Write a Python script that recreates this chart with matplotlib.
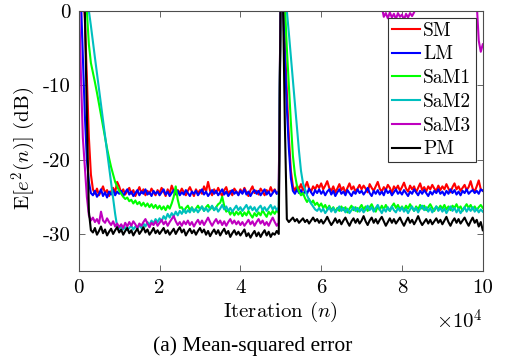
import numpy as np
import matplotlib
matplotlib.use("Agg")
import matplotlib.pyplot as plt

# MSE curves in dB, one sample every 500 iterations
step = 500

sm = [5, 5, 3, -1, -9, -17, -22, -24.0, -24.6, -23.9, -24.8, -24.2, -23.6, -24.5, -24.1, -24.9, -24.3, -23.8, -24.4, -23.0,
      -23.6, -24.5, -24.0, -24.7, -24.2, -23.8, -24.6, -24.1, -24.9, -24.3, -23.7, -24.5, -24.0, -24.8, -24.2, -24.6, -23.9, -24.4, -24.8, -24.1,
      -24.5, -23.8, -24.3, -24.9, -24.0, -24.6, -23.5, -24.2, -24.7, -24.1, -24.5, -23.9, -24.4, -24.8, -24.2, -23.7, -24.3, -24.9, -24.0, -24.5,
      -24.1, -24.6, -23.6, -24.3, -23.0, -24.2, -24.8, -24.0, -24.5, -23.8, -24.4, -24.9, -24.1, -23.7, -24.6, -24.2, -24.8, -23.9, -24.3, -24.7,
      -24.0, -24.5, -23.8, -24.4, -24.9, -24.1, -23.6, -24.5, -24.2, -24.7, -23.9, -24.3, -24.8, -24.1, -24.5, -23.7, -24.4, -24.0, -24.6, -24.2,
      5, 3, -4, -11, -17, -21.5, -23.6, -24.2, -23.5, -24.0, -23.3, -24.1, -23.7, -23.0, -23.9, -24.3, -23.6, -24.0, -23.4, -23.8,
      -23.2, -24.0, -23.5, -22.9, -23.8, -24.2, -23.6, -24.4, -23.9, -23.3, -24.1, -23.7, -24.5, -23.8, -23.2, -24.0, -23.6, -24.3, -23.9, -23.4,
      -24.0, -23.5, -23.9, -24.4, -23.3, -23.8, -24.2, -23.6, -23.0, -23.9, -24.3, -23.7, -24.1, -23.4, -23.8, -24.5, -23.6, -24.0, -23.5, -24.2,
      -23.7, -23.1, -23.9, -24.3, -23.5, -24.0, -23.6, -24.4, -23.8, -23.2, -24.1, -23.7, -24.3, -23.6, -24.0, -23.4, -23.9, -24.2, -23.5, -24.1,
      -23.6, -24.0, -23.3, -23.9, -24.4, -23.7, -23.2, -24.0, -23.6, -24.2, -23.8, -23.4, -24.1, -23.7, -22.9, -23.9, -24.3, -23.6, -22.8, -24.0,
      -24.2]

lm = [5, 2, -6, -14, -20, -23, -24.5, -24.8, -24.2, -25.0, -24.6, -24.0, -24.9, -24.4, -25.1, -24.3, -24.7, -24.1, -24.8, -24.3,
      -24.6, -24.2, -24.9, -24.4, -24.0, -24.7, -24.3, -24.9, -24.5, -24.1, -24.8, -24.3, -24.6, -24.0, -24.7, -24.4, -24.9, -24.2, -24.6, -24.3,
      -24.8, -24.4, -24.0, -24.7, -24.3, -24.9, -24.5, -24.1, -24.6, -24.2, -24.8, -24.4, -24.7, -24.1, -24.5, -24.9, -24.3, -24.6, -24.2, -24.8,
      -24.4, -24.0, -24.7, -24.3, -24.9, -24.5, -24.1, -24.6, -24.2, -24.8, -24.4, -24.0, -24.7, -24.3, -24.9, -24.5, -24.1, -24.6, -24.3, -24.8,
      -24.2, -24.6, -24.0, -24.7, -24.3, -24.9, -24.4, -24.1, -24.6, -24.2, -24.8, -24.4, -24.0, -24.7, -24.3, -24.9, -24.5, -24.1, -24.6, -24.3,
      5, 2, -6, -13, -18.5, -22.5, -24.2, -24.6, -24.0, -24.5, -24.1, -24.7, -24.2, -24.6, -23.9, -24.4, -24.8, -24.1, -24.5, -24.0,
      -24.6, -24.2, -24.8, -24.3, -24.0, -24.7, -24.2, -24.9, -24.4, -24.0, -24.6, -24.3, -24.8, -24.1, -24.5, -24.9, -24.3, -24.6, -24.0, -24.5,
      -24.2, -24.7, -24.3, -23.8, -24.5, -24.9, -24.2, -24.6, -24.1, -24.7, -24.3, -24.8, -24.0, -24.5, -24.2, -24.8, -24.4, -24.0, -24.6, -24.3,
      -24.7, -24.1, -24.5, -24.9, -24.3, -24.6, -24.0, -24.4, -24.8, -24.2, -24.6, -24.1, -24.5, -24.9, -24.3, -24.7, -24.2, -24.5, -24.0, -24.6,
      -24.3, -24.8, -24.2, -24.6, -24.0, -24.5, -24.1, -24.7, -24.3, -24.8, -24.2, -24.5, -24.0, -24.6, -24.3, -24.1, -24.5, -24.2, -24.6, -24.0,
      -24.2]

sam1 = [5, 5, 5, 4, 0, -4.5, -7, -8.3, -9.6, -11, -12.5, -14, -15.5, -17, -18.5, -19.8, -21, -22, -23, -23.6,
        -24.2, -24.6, -25.0, -25.3, -25.1, -25.6, -25.4, -25.9, -25.5, -26.0, -25.7, -26.2, -25.8, -26.3, -25.9, -26.4, -26.0, -26.5, -26.1, -26.6,
        -26.2, -26.7, -26.3, -26.8, -26.2, -26.6, -25.9, -25.0, -23.6, -25.4, -26.5, -26.4, -27.0, -26.5, -26.2, -26.8, -26.4, -27.0, -26.6, -26.2,
        -26.7, -26.3, -26.9, -26.4, -26.1, -26.7, -26.3, -26.8, -26.4, -26.0, -25.8, -25.0, -26.2, -27.0, -26.8, -27.4, -26.9, -27.5, -27.0, -27.4,
        -27.0, -27.6, -27.1, -27.5, -26.9, -27.4, -27.8, -27.2, -27.6, -27.1, -27.5, -26.8, -27.3, -27.7, -27.0, -27.4, -26.9, -27.3, -26.8, -27.2,
        5, 5, 1, -5, -10, -15, -19.5, -22, -23.5, -24.3, -24.8, -24.5, -25.2, -25.7, -25.3, -25.9, -25.5, -26.1, -25.8, -26.3,
        -25.9, -26.5, -26.1, -26.7, -26.2, -26.8, -26.4, -27.0, -26.5, -26.9, -26.3, -26.8, -26.4, -27.1, -26.6, -26.2, -26.8, -26.4, -27.0, -26.5,
        -26.1, -26.7, -26.3, -26.9, -26.4, -26.0, -26.6, -27.0, -26.3, -26.8, -26.2, -26.7, -26.1, -26.6, -26.9, -26.3, -25.9, -26.5, -26.1, -26.7,
        -26.3, -26.8, -26.2, -26.6, -26.0, -26.5, -26.9, -26.3, -26.7, -26.1, -26.6, -26.2, -26.8, -26.4, -26.0, -26.5, -26.9, -26.3, -26.7, -26.2,
        -26.6, -26.1, -26.7, -26.3, -26.8, -26.2, -26.5, -26.0, -26.6, -26.3, -26.9, -26.4, -26.0, -26.5, -26.1, -26.7, -26.3, -26.8, -26.4, -26.1,
        -26.5]

sam2 = [5, 5, 5, 5, 5, 0, -2, -4.2, -6.3, -8.4, -10.5, -12.6, -14.7, -16.8, -19, -21, -23, -25.2, -27.3, -29.0,
        -29.3, -29.0, -29.4, -29.1, -29.5, -29.2, -28.9, -29.4, -29.0, -29.3, -28.8, -29.2, -28.6, -29.0, -28.4, -28.8, -28.2, -28.6, -28.0, -28.4,
        -27.9, -28.3, -27.6, -28.0, -27.3, -27.8, -27.2, -27.6, -27.0, -27.5, -26.9, -27.3, -26.7, -27.2, -26.8, -27.1, -26.5, -27.0, -26.6, -27.1,
        -26.7, -26.3, -26.9, -26.5, -27.0, -26.6, -26.2, -26.8, -26.4, -27.0, -26.6, -26.1, -26.7, -26.3, -26.9, -26.5, -27.0, -26.6, -26.2, -26.8,
        -26.4, -26.9, -26.5, -26.1, -26.7, -26.3, -26.8, -26.4, -27.0, -26.5, -26.2, -26.8, -26.4, -26.9, -26.5, -26.1, -26.7, -26.3, -26.8, -26.4,
        5, 5, 3, 0, -3, -6.2, -9.4, -12.5, -15.6, -18.8, -21.5, -23.2, -24.0, -24.8, -25.4, -25.9, -26.3, -26.7, -26.9, -26.5,
        -27.0, -26.6, -27.2, -26.8, -26.4, -27.0, -26.5, -27.1, -26.7, -26.3, -26.9, -26.5, -27.1, -26.6, -27.2, -26.8, -26.4, -26.9, -26.5, -27.0,
        -26.6, -27.1, -26.7, -26.2, -26.8, -26.4, -27.0, -26.5, -26.1, -26.7, -27.2, -26.6, -27.0, -26.4, -26.9, -26.3, -26.8, -27.1, -26.5, -26.9,
        -26.4, -27.0, -26.6, -27.2, -26.7, -26.3, -26.9, -26.5, -27.1, -26.6, -26.2, -26.8, -26.4, -27.0, -26.5, -27.1, -26.7, -26.3, -26.9, -26.5,
        -27.0, -26.6, -27.2, -26.7, -26.3, -26.9, -26.5, -27.1, -26.6, -27.2, -26.8, -26.4, -27.0, -26.5, -26.9, -26.4, -27.0, -26.6, -27.1, -26.7,
        -27.0]

sam3 = [3, -8, -17, -21, -25, -27.5, -28.2, -27.8, -28.4, -28.0, -28.6, -27.0, -28.2, -28.5, -27.9, -28.4, -28.8, -28.3, -29.0, -28.6,
        -29.1, -28.7, -29.2, -28.5, -29.0, -28.4, -28.9, -28.3, -28.7, -29.2, -28.6, -28.9, -28.4, -28.0, -28.6, -29.1, -28.5, -28.8, -28.3, -28.9,
        -28.5, -28.1, -28.7, -28.3, -28.9, -28.4, -28.0, -27.6, -28.3, -28.8, -28.4, -28.9, -28.3, -28.7, -28.2, -28.8, -28.4, -29.0, -28.5, -28.1,
        -28.7, -28.2, -28.8, -28.3, -27.8, -28.4, -28.9, -28.4, -28.0, -28.6, -28.2, -28.8, -28.3, -28.9, -28.4, -28.0, -28.6, -28.2, -28.7, -28.3,
        -28.8, -28.4, -28.9, -28.5, -28.1, -28.7, -28.3, -28.9, -28.4, -28.0, -28.6, -28.2, -28.8, -28.4, -28.9, -28.3, -27.8, -28.4, -28.9, -28.5,
        5, 4, 4.5, 3.5, 4, 3, 3.5, 2.5, 3, 2.2, 2.8, 2, 2.6, 1.8, 2.4, 1.6, 2.2, 1.5, 2, 1.4,
        1.8, 1.2, 1.6, 1.0, 1.5, 0.9, 1.4, 0.8, 1.3, 0.7, 1.2, 0.8, 1.1, 0.6, 1.0, 0.5, 1.1, 0.7, 1.2, 0.8,
        1.3, 0.9, 1.4, 1.0, 1.5, 1.1, 1.6, 1.2, 1.5, 1.0, 0.6, -0.8, -0.3, -1.0, -0.2, -0.9, -0.4, -1.1, -0.3, -0.8,
        -0.5, -1.2, -0.4, -0.9, -0.3, -0.7, -0.2, 0.5, 1.5, 1.0, 1.6, 1.2, 1.8, 1.3, 1.9, 1.4, 2.0, 1.5, 2.1, 1.6,
        2.2, 1.7, 2.3, 1.8, 2.2, 1.6, 2.0, 1.4, 1.8, 1.2, 1.6, 1.0, 1.4, 0.9, 1.2, 0.8, 1.0, 1.0, -4.0, -5.5,
        -4.5]

pm = [5, 4, 2, 0, -14, -27, -29.5, -29.8, -29.2, -30.1, -29.6, -29.0, -29.9, -29.4, -30.2, -29.7, -29.3, -30.0, -29.5, -29.1,
      -29.8, -29.4, -30.1, -29.6, -29.2, -29.9, -29.5, -30.2, -29.7, -29.3, -30.0, -29.6, -29.1, -29.8, -29.4, -30.1, -29.7, -29.2, -29.9, -29.5,
      -30.0, -29.6, -29.2, -29.9, -29.5, -30.1, -29.7, -29.3, -30.0, -29.5, -29.1, -29.8, -29.4, -30.2, -29.7, -29.3, -29.9, -29.5, -30.1, -29.6,
      -29.2, -29.8, -29.4, -30.1, -29.6, -30.3, -29.8, -29.4, -30.0, -29.5, -30.2, -29.7, -29.3, -30.0, -29.6, -30.4, -29.9, -29.5, -30.1, -29.7,
      -30.2, -29.8, -29.4, -30.3, -29.9, -30.5, -30.0, -29.6, -30.3, -29.8, -30.4, -29.9, -29.5, -30.2, -29.7, -30.4, -29.9, -30.1, -29.6, -30.0,
      5, 3, -15, -28.0, -28.4, -28.1, -27.8, -28.3, -28.0, -28.5, -28.2, -27.9, -28.4, -28.1, -28.6, -28.2, -27.8, -28.3, -28.0, -28.5,
      -28.1, -28.6, -28.2, -27.7, -28.3, -28.8, -28.4, -27.9, -28.5, -28.1, -28.7, -28.2, -27.8, -28.4, -28.9, -28.3, -27.9, -28.5, -28.0, -28.6,
      -28.2, -27.6, -28.3, -28.8, -28.2, -27.8, -28.5, -28.0, -28.6, -28.1, -27.7, -28.3, -28.9, -28.4, -27.9, -28.5, -28.0, -28.6, -28.2, -27.8,
      -28.4, -28.9, -28.3, -27.8, -28.5, -28.1, -28.7, -28.2, -27.6, -28.3, -28.8, -28.4, -28.0, -28.6, -28.1, -28.7, -28.3, -27.9, -28.5, -28.1,
      -28.7, -28.2, -27.7, -28.4, -28.9, -28.3, -27.9, -28.5, -28.0, -28.6, -28.2, -27.8, -28.4, -28.9, -28.3, -27.8, -28.5, -28.1, -29.0, -28.4,
      -29.5]

labels = ["SM", "LM", "SaM1", "SaM2", "SaM3", "PM"]
colors = ["#ff0000", "#0000ff", "#00ff00", "#00bfbf", "#bf00bf", "#000000"]
xticks = [0, 20000, 40000, 60000, 80000, 100000]
xticklabels = ["0", "2", "4", "6", "8", "10"]
yticks = [0, -10, -20, -30]
yticklabels = ["0", "-10", "-20", "-30"]

plt.rcParams["font.family"] = "cmr10"
plt.rcParams["mathtext.fontset"] = "cm"
plt.rcParams["axes.unicode_minus"] = False

fig = plt.figure(figsize=(5.05, 3.62), dpi=100)
ax = fig.add_axes([0.156, 0.251, 0.8, 0.719])

for vals, lab, col in zip([sm, lm, sam1, sam2, sam3, pm], labels, colors):
    n = np.arange(len(vals)) * step
    ax.plot(n, vals, color=col, lw=1.5, label=lab)

ax.set_xlim(0, 100000)
ax.set_ylim(-35, 0)
ax.set_xticks(xticks)
ax.set_xticklabels(xticklabels)
ax.set_yticks(yticks)
ax.set_yticklabels(yticklabels)
ax.tick_params(direction="in", length=4, width=0.6, color="0.3",
               top=True, right=True, labelsize=15, pad=6)
for sp in ax.spines.values():
    sp.set_color("0.3")
    sp.set_linewidth(0.8)

ax.set_xlabel(r"Iteration $(n)$", fontsize=15, labelpad=2)
ax.set_ylabel(r"$\mathrm{E}[e^2(n)]$ (dB)", fontsize=15)
ax.yaxis.set_label_coords(-0.10, 0.47)
ax.text(1.0, -0.145, r"$\times10^4$", transform=ax.transAxes, ha="right",
        va="top", fontsize=15)

leg = ax.legend(loc="upper right", bbox_to_anchor=(0.982, 0.973), fontsize=14,
                frameon=True, fancybox=False, edgecolor="0.2", framealpha=1,
                handlelength=1.45, handletextpad=0.15, labelspacing=0.3,
                borderpad=0.2, borderaxespad=0.0)
leg.get_frame().set_linewidth(0.8)

fig.text(0.501, 0.043, "(a) Mean-squared error", ha="center", va="center",
         fontsize=15.5, family="Liberation Serif")

fig.savefig("out.png", dpi=100)
